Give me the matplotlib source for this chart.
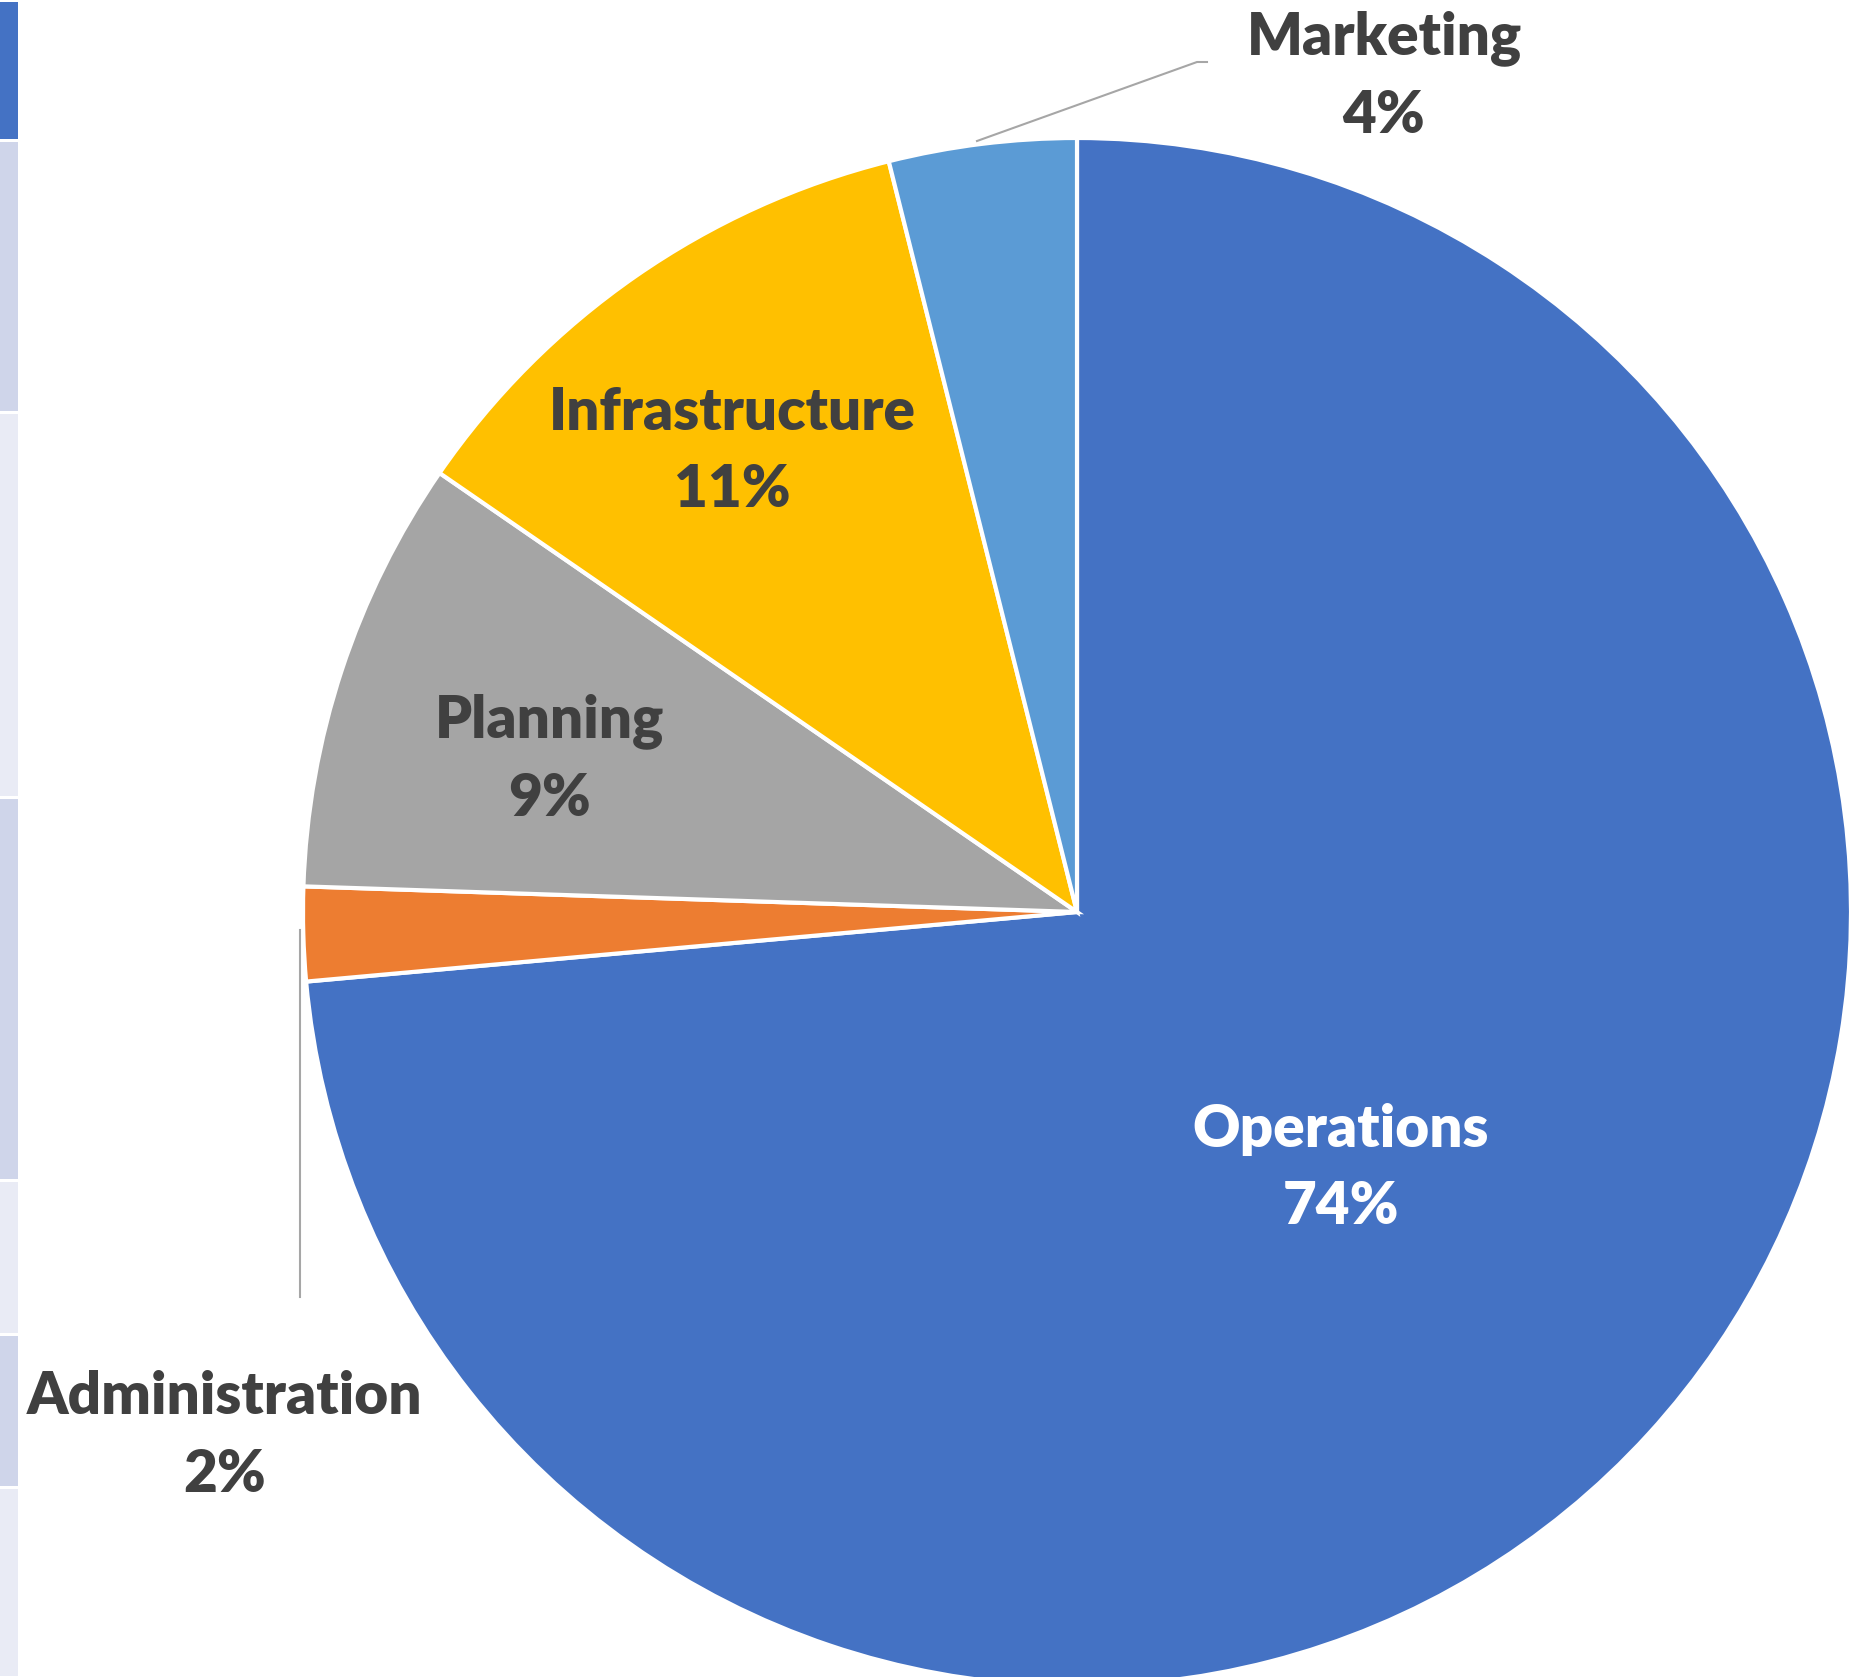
import matplotlib.pyplot as plt
from matplotlib.patches import Rectangle

# share of budget by department, clockwise from 12 o'clock
departments = ["Operations", "Administration", "Planning", "Infrastructure", "Marketing"]
shares = [73.56, 1.96, 9.07, 11.49, 3.91]
colors = ["#4472C4", "#ED7D31", "#A5A5A5", "#FFC000", "#5B9BD5"]

W, H = 1860, 1677
fig = plt.figure(figsize=(W / 100, H / 100), dpi=100)
ax = fig.add_axes([0, 0, 1, 1])

# spreadsheet cells peeking in on the left edge (pixel rows from top)
cell_edges = [0, 140, 412, 797, 1180, 1334, 1487, 1677]
cell_colors = ["#4472C4", "#CFD5EA", "#E9EBF5", "#CFD5EA", "#E9EBF5", "#CFD5EA", "#E9EBF5"]
for top, bottom, c in zip(cell_edges[:-1], cell_edges[1:], cell_colors):
    ax.add_patch(Rectangle((0, H - bottom + 1.5), 18, bottom - top - 3,
                           facecolor=c, edgecolor="none", zorder=0))

cx, cy, r = 1077, H - 912, 774
ax.pie(shares, colors=colors, startangle=90, counterclock=False,
       center=(cx, cy), radius=r,
       wedgeprops=dict(edgecolor="white", linewidth=3))

ax.set_xlim(0, W)
ax.set_ylim(0, H)
ax.set_aspect("equal")
ax.axis("off")

font = dict(family=["Lato", "DejaVu Sans"], fontsize=42, fontweight="heavy",
            ha="center", va="center")
# label anchors in pixels from top-left, (name line, percent line)
label_pos = {
    "Operations": (1341, 1129),
    "Administration": (225, 1397),
    "Planning": (549, 721),
    "Infrastructure": (732, 412),
    "Marketing": (1384, 38),
}
total = sum(shares)
for name, val in zip(departments, shares):
    x, y = label_pos[name]
    c = "white" if name == "Operations" else "#404040"
    ax.text(x, H - y, name, color=c, **font)
    ax.text(x, H - y - 77, f"{round(val / total * 100)}%", color=c, **font)

# leader lines
ax.plot([977, 1197, 1207], [H - 141, H - 62, H - 62], color="#A6A6A6", lw=1.5)
ax.plot([300, 300], [H - 930, H - 1297], color="#A6A6A6", lw=1.5)

fig.savefig("out.png", dpi=100, facecolor="white")
